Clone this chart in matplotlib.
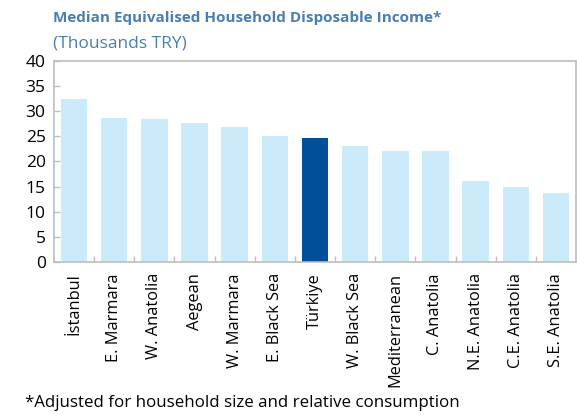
import matplotlib
matplotlib.use('Agg')
import matplotlib.pyplot as plt

# Median equivalised household disposable income by region (thousands TRY)
regions = ['İstanbul', 'E. Marmara', 'W. Anatolia', 'Aegean', 'W. Marmara',
           'E. Black Sea', 'Türkiye', 'W. Black Sea', 'Mediterranean',
           'C. Anatolia', 'N.E. Anatolia', 'C.E. Anatolia', 'S.E. Anatolia']
income = [32.5, 28.6, 28.5, 27.7, 26.9, 25.1, 24.7, 23.1, 22.1, 22.0, 16.2, 15.0, 13.8]
highlight = 'Türkiye'

y_ticks = [0, 5, 10, 15, 20, 25, 30, 35, 40]

LIGHT = '#CCEBFA'
DARK = '#004F98'
TITLE_COLOR = '#4A7EB0'
SPINE = '#BEBEBE'

plt.rcParams['font.family'] = ['Open Sans', 'DejaVu Sans']

fig = plt.figure(figsize=(5.77, 4.15), dpi=100)
ax = fig.add_axes([54 / 577, 1 - 262 / 415, 522 / 577, 201 / 415])

colors = [DARK if r == highlight else LIGHT for r in regions]
x = list(range(len(regions)))
ax.bar(x, income, width=0.66, color=colors, zorder=2)

ax.set_xlim(-0.5, len(regions) - 0.5)
ax.set_ylim(0, 40)
ax.set_yticks(y_ticks)
ax.set_yticklabels([str(v) for v in y_ticks], fontsize=12.5)

# category labels at bar centres, tick marks at category boundaries
ax.set_xticks(x)
ax.set_xticklabels(regions, rotation=90, fontsize=11.8)
ax.tick_params(axis='x', length=0, pad=8)
ax.set_xticks([i + 0.5 for i in x[:-1]], minor=True)
ax.tick_params(axis='x', which='minor', direction='in', length=4.5, color=SPINE, width=1)
ax.tick_params(axis='y', direction='in', length=4.5, color=SPINE, width=1, pad=6)

for s in ax.spines.values():
    s.set_color(SPINE)
    s.set_linewidth(1.2)

fig.text(53 / 577, 1 - 18 / 415, 'Median Equivalised Household Disposable Income*',
         fontsize=11, fontweight='bold', color=TITLE_COLOR, va='center', ha='left')
fig.text(53 / 577, 1 - 43 / 415, '(Thousands TRY)',
         fontsize=12.5, color=TITLE_COLOR, va='center', ha='left')
fig.text(25 / 577, 1 - 403 / 415, '*Adjusted for household size and relative consumption',
         fontsize=12.2, color='black', va='center', ha='left')

fig.savefig('out.png', dpi=100)
